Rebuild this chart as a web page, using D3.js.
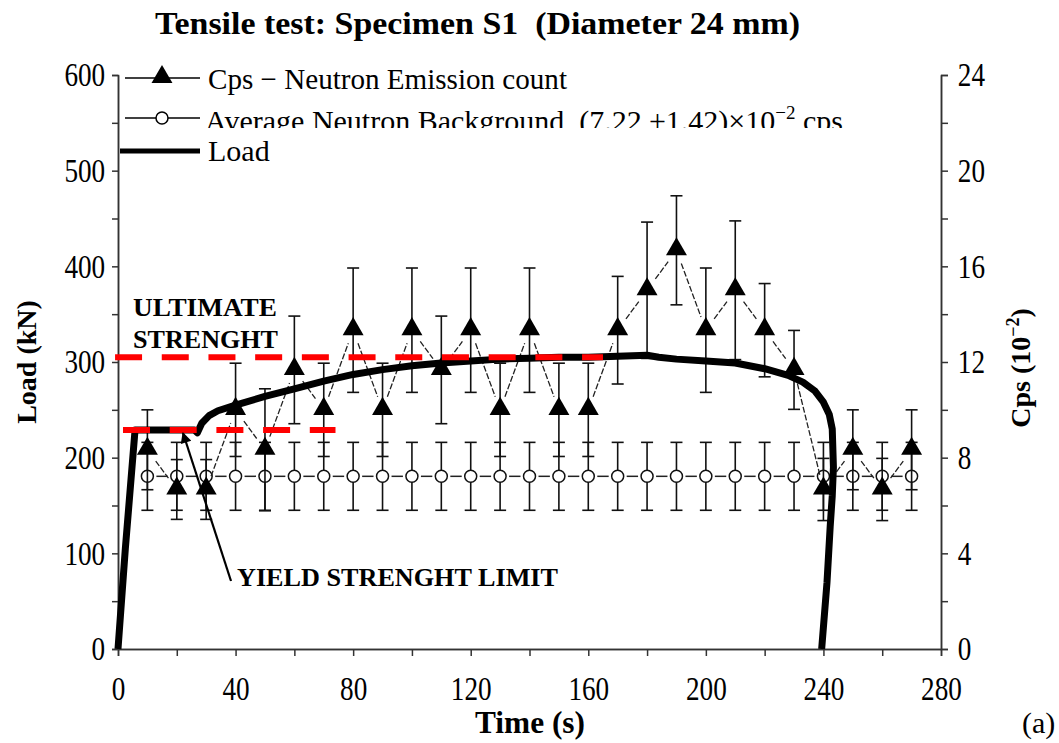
<!DOCTYPE html>
<html>
<head>
<meta charset="utf-8">
<script src="https://cdn.jsdelivr.net/npm/d3@7"></script>
<style>
  body { margin: 0; background: #fff; }
  svg { display: block; font-family: "Liberation Serif", "Times New Roman", serif; }
</style>
</head>
<body>
<svg width="1059" height="743"></svg>
<script>
// sampling times of the neutron counter (s)
var times = [10, 20, 30, 40, 50, 60, 70, 80, 90, 100, 110, 120, 130, 140, 150, 160, 170, 180, 190, 200, 210, 220, 230, 240, 250, 260, 270];
// neutron emission count (10^-2 cps) and its error
var cps = [8.33, 6.67, 6.67, 10, 8.33, 11.67, 10, 13.33, 10, 13.33, 11.67, 13.33, 10, 13.33, 10, 10, 13.33, 15, 16.67, 13.33, 15, 13.33, 11.67, 6.67, 8.33, 6.67, 8.33];
var cpsErr = [1.67, 1.25, 1.25, 1.95, 2.55, 2.25, 1.95, 2.6, 1.95, 2.6, 2.25, 2.6, 1.95, 2.6, 1.95, 1.95, 2.25, 2.85, 2.28, 2.6, 2.9, 1.95, 1.65, 1.3, 1.67, 1.3, 1.67];
// average neutron background
var bgMean = 7.22;
var bgErr = 1.42;
// load curve (time s, load kN)
var loadTime = [0, 2.5, 5.8, 10, 20, 26, 27, 28.5, 31, 34, 40, 50, 60, 70, 80, 90, 100, 110, 120, 130, 140, 150, 160, 170, 180, 184, 190, 200, 210, 220, 228, 233, 237, 240, 242, 243, 243.4, 243, 242.3, 241.2, 239.4];
var loadKN = [0, 105, 229, 229, 229, 229, 226, 236, 244, 249, 255, 264, 272, 280, 287, 292, 296, 299, 301, 303, 304, 305, 305, 306, 307, 305, 303, 301, 299, 293, 286, 279, 270, 258, 245, 230, 190, 160, 128, 69, 0];
// reference levels (kN) and the time span they cover
var refNames = ["ultimate", "yield"];
var refLoad = [305, 229];
var refFrom = [-1, 1.7];
var refTo = [165, 74];
// ticks
var xTicks = [0, 40, 80, 120, 160, 200, 240, 280];
var xMinor = [20, 60, 100, 140, 180, 220, 260];
var yLTicks = [0, 100, 200, 300, 400, 500, 600];
var yLMinor = [50, 150, 250, 350, 450, 550];
var yRTicks = [0, 4, 8, 12, 16, 20, 24];
var yRMinor = [2, 6, 10, 14, 18, 22];

var svg = d3.select("svg");
var x = d3.scaleLinear().domain([0, 280]).range([118, 941]);
var yL = d3.scaleLinear().domain([0, 600]).range([649, 75]);
var yR = d3.scaleLinear().domain([0, 24]).range([649, 75]);

var sx = 0.8; // the figure fonts are horizontally condensed

// title
svg.append("text")
  .attr("x", 155).attr("y", 34)
  .attr("textLength", 645).attr("lengthAdjust", "spacingAndGlyphs")
  .style("font-size", "32px").style("font-weight", "bold").style("white-space", "pre")
  .text("Tensile test: Specimen S1  (Diameter 24 mm)");

function styleAxis(g) {
  g.select(".domain").attr("stroke", "#333").attr("stroke-width", 1.5);
  g.selectAll(".tick line").attr("stroke", "#333").attr("stroke-width", 1.5);
  g.selectAll(".tick text").style("font-size", "34px").attr("fill", "#000")
    .style("font-family", "'Liberation Serif', serif");
}

// axes
var gx = svg.append("g").attr("transform", "translate(0,649)")
  .call(d3.axisBottom(x).tickValues(xTicks).tickSize(7).tickSizeOuter(0));
svg.append("g").attr("transform", "translate(0,649)")
  .call(d3.axisBottom(x).tickValues(xMinor).tickSize(7).tickFormat("")).call(styleAxis);
styleAxis(gx);
gx.selectAll(".tick text").attr("y", 51).attr("dy", 0).attr("transform", "scale(" + sx + ",1)");

var gl = svg.append("g").attr("transform", "translate(118,0)")
  .call(d3.axisLeft(yL).tickValues(yLTicks).tickSize(6).tickSizeOuter(0));
svg.append("g").attr("transform", "translate(118,0)")
  .call(d3.axisLeft(yL).tickValues(yLMinor).tickSize(6).tickFormat("")).call(styleAxis);
styleAxis(gl);
gl.selectAll(".tick text").attr("x", -16).attr("transform", "scale(" + sx + ",1)");

var gr = svg.append("g").attr("transform", "translate(941,0)")
  .call(d3.axisRight(yR).tickValues(yRTicks).tickSize(7).tickSizeOuter(0));
svg.append("g").attr("transform", "translate(941,0)")
  .call(d3.axisRight(yR).tickValues(yRMinor).tickSize(7).tickFormat("")).call(styleAxis);
styleAxis(gr);
gr.selectAll(".tick text").attr("x", 21).attr("transform", "scale(" + sx + ",1)");

// axis titles
svg.append("text")
  .attr("transform", "translate(36,362) rotate(-90)")
  .attr("text-anchor", "middle")
  .style("font-size", "28px").style("font-weight", "bold")
  .text("Load (kN)");
var cpsLab = svg.append("text")
  .attr("transform", "translate(1030,368) rotate(-90)")
  .attr("text-anchor", "middle")
  .style("font-size", "28px").style("font-weight", "bold");
cpsLab.append("tspan").text("Cps (10");
cpsLab.append("tspan").attr("dy", -11).style("font-size", "18px").text("\u22122");
cpsLab.append("tspan").attr("dy", 11).text(")");

svg.append("text")
  .attr("x", 475).attr("y", 733)
  .attr("textLength", 110).attr("lengthAdjust", "spacingAndGlyphs")
  .style("font-size", "32px").style("font-weight", "bold")
  .text("Time (s)");
svg.append("text")
  .attr("x", 1022).attr("y", 733)
  .style("font-size", "30px")
  .text("(a)");

function trimSeg(p, q, d) {
  var dx = q[0] - p[0], dy = q[1] - p[1];
  var len = Math.sqrt(dx * dx + dy * dy);
  if (len < 2 * d + 2) return null;
  return [p[0] + dx / len * d, p[1] + dy / len * d, q[0] - dx / len * d, q[1] - dy / len * d];
}

function errorBars(vals, errs, cls) {
  var g = svg.append("g").attr("class", cls).attr("stroke", "#111").attr("stroke-width", 1.6);
  times.forEach(function (t, i) {
    var v = vals[i], e = errs[i];
    var cx = x(t);
    g.append("line").attr("x1", cx).attr("x2", cx).attr("y1", yR(v + e)).attr("y2", yR(v - e));
    g.append("line").attr("x1", cx - 6).attr("x2", cx + 6).attr("y1", yR(v + e)).attr("y2", yR(v + e));
    g.append("line").attr("x1", cx - 6).attr("x2", cx + 6).attr("y1", yR(v - e)).attr("y2", yR(v - e));
  });
}

// background series
var bgVals = times.map(function () { return bgMean; });
var bgErrs = times.map(function () { return bgErr; });
errorBars(bgVals, bgErrs, "bg-err");
var bgPts = times.map(function (t) { return [x(t), yR(bgMean)]; });
for (var i = 0; i < bgPts.length - 1; i++) {
  var s = trimSeg(bgPts[i], bgPts[i + 1], 9);
  if (s) svg.append("line").attr("x1", s[0]).attr("y1", s[1]).attr("x2", s[2]).attr("y2", s[3])
    .attr("stroke", "#222").attr("stroke-width", 1.5);
}
svg.selectAll("circle.bg").data(times).enter().append("circle")
  .attr("class", "bg")
  .attr("cx", function (d) { return x(d); })
  .attr("cy", yR(bgMean))
  .attr("r", 6)
  .attr("fill", "#fff").attr("stroke", "#111").attr("stroke-width", 1.5);

// neutron emission series
errorBars(cps, cpsErr, "cps-err");
var cpsPts = times.map(function (t, i) { return [x(t), yR(cps[i])]; });
for (var i = 0; i < cpsPts.length - 1; i++) {
  var s = trimSeg(cpsPts[i], cpsPts[i + 1], 14);
  if (s) svg.append("line").attr("x1", s[0]).attr("y1", s[1]).attr("x2", s[2]).attr("y2", s[3])
    .attr("stroke", "#222").attr("stroke-width", 1.3).attr("stroke-dasharray", "6,2");
}
var tri = d3.symbol().type(d3.symbolTriangle).size(190);
svg.selectAll("path.cps").data(times).enter().append("path")
  .attr("class", "cps")
  .attr("d", tri)
  .attr("transform", function (d, i) { return "translate(" + x(d) + "," + (yR(cps[i]) - 1) + ")"; })
  .attr("fill", "#000");

// load curve
var loadData = loadTime.map(function (t, i) { return [t, loadKN[i]]; });
svg.append("path")
  .datum(loadData)
  .attr("d", d3.line().x(function (d) { return x(d[0]); }).y(function (d) { return yL(d[1]); }).curve(d3.curveLinear))
  .attr("fill", "none").attr("stroke", "#000").attr("stroke-width", 7)
  .attr("stroke-linejoin", "round");

// reference levels
refNames.forEach(function (n, i) {
  svg.append("line")
    .attr("class", "ref-" + n)
    .attr("x1", x(refFrom[i])).attr("x2", x(refTo[i]))
    .attr("y1", yL(refLoad[i])).attr("y2", yL(refLoad[i]))
    .attr("stroke", "#f00").attr("stroke-width", 6)
    .attr("stroke-dasharray", "27,19.7");
});

// annotations
svg.append("text").attr("x", 133).attr("y", 316)
  .attr("textLength", 144).attr("lengthAdjust", "spacingAndGlyphs")
  .style("font-size", "25px").style("font-weight", "bold").text("ULTIMATE");
svg.append("text").attr("x", 133).attr("y", 348)
  .attr("textLength", 145).attr("lengthAdjust", "spacingAndGlyphs")
  .style("font-size", "25px").style("font-weight", "bold").text("STRENGHT");
svg.append("text").attr("x", 237).attr("y", 586)
  .attr("textLength", 321).attr("lengthAdjust", "spacingAndGlyphs")
  .style("font-size", "25px").style("font-weight", "bold").text("YIELD STRENGHT LIMIT");

svg.append("defs").append("marker")
  .attr("id", "arrow").attr("viewBox", "0 0 10 10")
  .attr("refX", 9).attr("refY", 5)
  .attr("markerWidth", 7).attr("markerHeight", 5)
  .attr("markerUnits", "strokeWidth")
  .attr("orient", "auto")
  .append("path").attr("d", "M0,0 L10,5 L0,10 z").attr("fill", "#000");
svg.append("line")
  .attr("x1", 231).attr("y1", 581).attr("x2", 183).attr("y2", 433)
  .attr("stroke", "#000").attr("stroke-width", 2.2)
  .attr("marker-end", "url(#arrow)");

// legend
var lg = svg.append("g").attr("class", "legend");
svg.select("defs").append("clipPath").attr("id", "row2clip")
  .append("rect").attr("x", 100).attr("y", 95).attr("width", 800).attr("height", 33);

lg.append("line").attr("x1", 125).attr("x2", 200).attr("y1", 78).attr("y2", 78)
  .attr("stroke", "#000").attr("stroke-width", 1.5);
lg.append("path").attr("d", tri).attr("transform", "translate(162,77)").attr("fill", "#000");
lg.append("text").attr("x", 208).attr("y", 89)
  .attr("textLength", 359).attr("lengthAdjust", "spacingAndGlyphs")
  .style("font-size", "30px").text("Cps \u2212 Neutron Emission count");

var row2 = lg.append("g").attr("clip-path", "url(#row2clip)");
row2.append("line").attr("x1", 125).attr("x2", 200).attr("y1", 118).attr("y2", 118)
  .attr("stroke", "#000").attr("stroke-width", 1.5);
row2.append("circle").attr("cx", 162).attr("cy", 118).attr("r", 6)
  .attr("fill", "#fff").attr("stroke", "#000").attr("stroke-width", 1.5);
var t2 = row2.append("text").attr("x", 205).attr("y", 131)
  .style("font-size", "30px").style("white-space", "pre");
t2.append("tspan").text("Average Neutron Background  (7.22 \u00b11.42)\u00d710");
t2.append("tspan").attr("dy", -12).style("font-size", "19px").text("\u22122");
t2.append("tspan").attr("dy", 12).text(" cps");

lg.append("line").attr("x1", 120).attr("x2", 200).attr("y1", 151).attr("y2", 151)
  .attr("stroke", "#000").attr("stroke-width", 5);
lg.append("text").attr("x", 208).attr("y", 161)
  .style("font-size", "30px").text("Load");
</script>
</body>
</html>
